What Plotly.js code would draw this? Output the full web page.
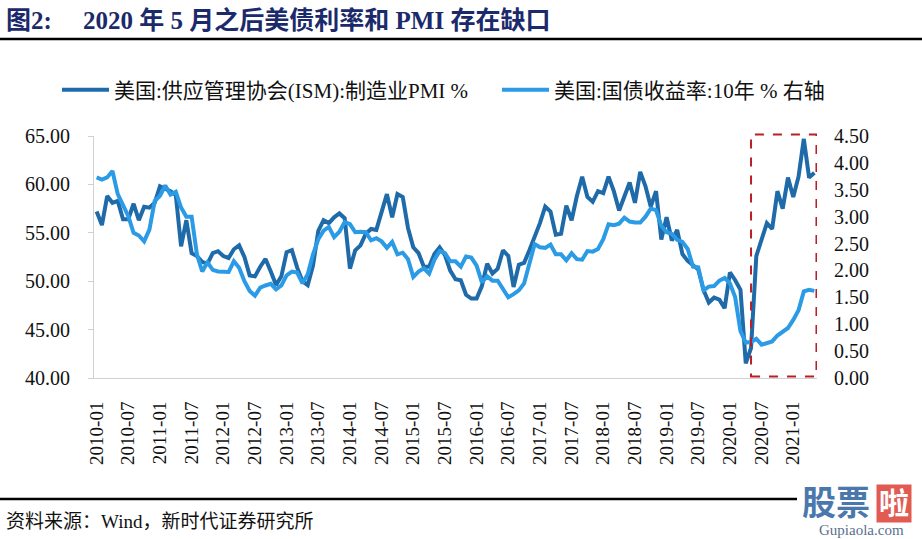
<!DOCTYPE html>
<html>
<head>
<meta charset="utf-8">
<script src="https://cdn.plot.ly/plotly-3.0.1.min.js"></script>
<style>
  html, body { margin: 0; padding: 0; background: #fff; }
  #chart { width: 922px; height: 539px; }
</style>
</head>
<body>
<div id="chart"></div>
<script>
// ---- Data (monthly, 2010-01 .. 2021-05) ----
const startYear = 2010;
const pmiName = '美国:供应管理协会(ISM):制造业PMI %';
const yieldName = '美国:国债收益率:10年 % 右轴';

const pmi = [
  57.2, 55.8, 58.8, 58.1, 58.3, 56.4, 56.4, 58.0, 56.3, 57.7, 57.6, 58.1,
  59.8, 59.6, 59.3, 58.9, 53.6, 56.3, 52.9, 52.6, 52.0, 51.8, 52.9, 53.1,
  52.6, 52.4, 53.3, 53.7, 52.5, 50.6, 50.5, 51.5, 52.3, 51.0, 49.6, 50.5,
  53.0, 53.2, 51.4, 50.0, 49.6, 51.6, 55.2, 56.3, 56.0, 56.6, 57.0, 56.5,
  51.3, 53.2, 53.7, 54.9, 55.4, 55.3, 57.1, 59.0, 56.6, 59.0, 58.7, 55.5,
  53.5, 52.9, 51.5, 51.5, 52.8, 53.5, 52.7, 51.1, 50.2, 50.1, 48.6, 48.2,
  48.2, 49.5, 51.8, 50.8, 51.3, 53.2, 52.6, 49.4, 51.7, 51.9, 53.2, 54.5,
  56.0, 57.7, 57.2, 54.8, 54.9, 57.8, 56.3, 58.8, 60.8, 58.7, 58.2, 59.3,
  59.1, 60.8, 59.3, 57.3, 58.7, 60.2, 58.1, 61.3, 59.8, 57.7, 59.3, 54.3,
  56.6, 54.2, 55.3, 52.8, 52.1, 51.7, 51.2, 49.1, 47.8, 48.3, 48.1, 47.2,
  50.9, 50.1, 49.1, 41.5, 43.1, 52.6, 54.2, 56.0, 55.4, 59.3, 57.5, 60.7,
  58.7, 60.8, 64.7, 60.7, 61.2
];

const yield10 = [
  3.73, 3.69, 3.73, 3.85, 3.42, 3.20, 3.01, 2.70, 2.65, 2.54, 2.76, 3.29,
  3.39, 3.58, 3.41, 3.46, 3.17, 3.00, 3.00, 2.30, 1.98, 2.15, 2.01, 1.98,
  1.97, 1.97, 2.17, 2.05, 1.80, 1.62, 1.53, 1.68, 1.72, 1.75, 1.65, 1.72,
  1.91, 1.98, 1.96, 1.76, 1.93, 2.30, 2.58, 2.74, 2.81, 2.62, 2.72, 2.90,
  2.86, 2.71, 2.72, 2.71, 2.56, 2.60, 2.54, 2.42, 2.53, 2.30, 2.33, 2.21,
  1.88, 1.98, 2.04, 1.94, 2.20, 2.36, 2.32, 2.17, 2.17, 2.07, 2.26, 2.24,
  2.09, 1.78, 1.89, 1.81, 1.81, 1.64, 1.50, 1.56, 1.63, 1.76, 2.14, 2.49,
  2.43, 2.42, 2.48, 2.30, 2.30, 2.19, 2.32, 2.21, 2.20, 2.36, 2.35, 2.40,
  2.58, 2.86, 2.84, 2.87, 2.98, 2.91, 2.89, 2.89, 3.00, 3.15, 3.12, 2.83,
  2.71, 2.68, 2.57, 2.53, 2.40, 2.07, 2.06, 1.63, 1.70, 1.71, 1.81, 1.86,
  1.76, 1.50, 0.87, 0.66, 0.67, 0.73, 0.62, 0.65, 0.68, 0.79, 0.87, 0.93,
  1.08, 1.26, 1.61, 1.64, 1.62
];

// category labels
const months = pmi.map((_, i) => {
  const y = startYear + Math.floor(i / 12);
  const m = (i % 12) + 1;
  return y + '-' + (m < 10 ? '0' + m : '' + m);
});
const tickMonths = months.filter((_, i) => i % 6 === 0);
const boxStart = '2020-05';

const leftTicks = [40, 45, 50, 55, 60, 65];
const rightTicks = [0, 0.5, 1, 1.5, 2, 2.5, 3, 3.5, 4, 4.5];

// ---- Styling ----
const serif = '"Liberation Serif", "Times New Roman", "Noto Sans CJK SC", serif';
const darkBlue = '#1f6aa8';
const lightBlue = '#2b9be6';

const traces = [
  { x: months, y: pmi, name: pmiName, type: 'scatter', mode: 'lines',
    line: { color: darkBlue, width: 4 }, yaxis: 'y', legend: 'legend' },
  { x: months, y: yield10, name: yieldName, type: 'scatter', mode: 'lines',
    line: { color: lightBlue, width: 4 }, yaxis: 'y2', legend: 'legend2' }
];

// paper coordinate helpers (plot area: x 94..817, y 136..378)
const W = 723, H = 242, L = 94, B = 378;
const px = v => (v - L) / W;
const py = v => (B - v) / H;

const legendBase = {
  orientation: 'h', xanchor: 'left', y: py(90), yanchor: 'middle',
  font: { family: serif, size: 21, color: '#111' },
  bgcolor: 'rgba(0,0,0,0)', itemwidth: 47
};

const layout = {
  width: 922, height: 539,
  margin: { l: L, r: 922 - L - W, t: B - H, b: 539 - B, pad: 0 },
  paper_bgcolor: '#ffffff', plot_bgcolor: '#ffffff',
  font: { family: serif, size: 20, color: '#111' },
  showlegend: true,
  legend: Object.assign({}, legendBase, { x: px(57) }),
  legend2: Object.assign({}, legendBase, { x: px(497) }),
  xaxis: {
    type: 'category', range: [-0.5, months.length - 0.5],
    tickmode: 'array', tickvals: tickMonths, ticktext: tickMonths,
    tickangle: -90, tickfont: { family: serif, size: 19, color: '#111' },
    showgrid: false, zeroline: false, showline: true, linecolor: '#d0d0d0', linewidth: 1,
    ticks: '', ticklabelstandoff: 15, fixedrange: true
  },
  yaxis: {
    range: [40, 65], tickmode: 'array', tickvals: leftTicks,
    tickformat: '.2f', tickfont: { family: serif, size: 20, color: '#111' },
    showgrid: false, zeroline: false, showline: true, linecolor: '#d0d0d0', linewidth: 1,
    ticks: 'outside', ticklen: 5, tickcolor: '#d0d0d0', ticklabelstandoff: 14
  },
  yaxis2: {
    range: [0, 4.5], overlaying: 'y', side: 'right', tickmode: 'array', tickvals: rightTicks,
    tickformat: '.2f', tickfont: { family: serif, size: 20, color: '#111' },
    showgrid: false, zeroline: false, showline: false, ticks: '', ticklabelstandoff: 16
  },
  shapes: [
    { type: 'line', xref: 'paper', yref: 'paper', x0: px(0), x1: px(922), y0: py(39), y1: py(39),
      line: { color: '#000', width: 2.5 } },
    { type: 'line', xref: 'paper', yref: 'paper', x0: px(0), x1: px(797), y0: py(499), y1: py(499),
      line: { color: '#000', width: 2.5 } },
    { type: 'rect', xref: 'x', yref: 'paper', x0: months.indexOf(boxStart), x1: months.length - 0.6,
      y0: py(376.5), y1: py(134.5), line: { color: '#b82025', width: 2, dash: 'dash' } }
  ],
  annotations: [
    { xref: 'paper', yref: 'paper', x: px(4), y: py(20), xanchor: 'left', yanchor: 'middle',
      showarrow: false, text: '<b>图2:\u3000 2020 年 5 月之后美债利率和 PMI 存在缺口</b>',
      font: { family: serif, size: 25, color: '#1b2a6b' } },
    { xref: 'paper', yref: 'paper', x: px(4), y: py(521), xanchor: 'left', yanchor: 'middle',
      showarrow: false, text: '资料来源：Wind，新时代证券研究所',
      font: { family: serif, size: 19, color: '#111' } },
    { xref: 'paper', yref: 'paper', x: px(800), y: py(503), xanchor: 'left', yanchor: 'middle',
      showarrow: false, text: '<b>股票</b>', font: { family: serif, size: 34, color: '#4a78ad' } },
    { xref: 'paper', yref: 'paper', x: px(876), y: py(503), xanchor: 'left', yanchor: 'middle',
      showarrow: false, text: '<b>啦</b>', font: { family: serif, size: 30, color: '#ffffff' },
      bgcolor: '#e25b52', borderpad: 2 },
    { xref: 'paper', yref: 'paper', x: px(861), y: py(530), xanchor: 'center', yanchor: 'middle',
      showarrow: false, text: 'Gupiaola.com', font: { family: serif, size: 15, color: '#5a6f8f' } }
  ]
};

Plotly.newPlot('chart', traces, layout, { displayModeBar: false, staticPlot: true });
</script>
</body>
</html>
